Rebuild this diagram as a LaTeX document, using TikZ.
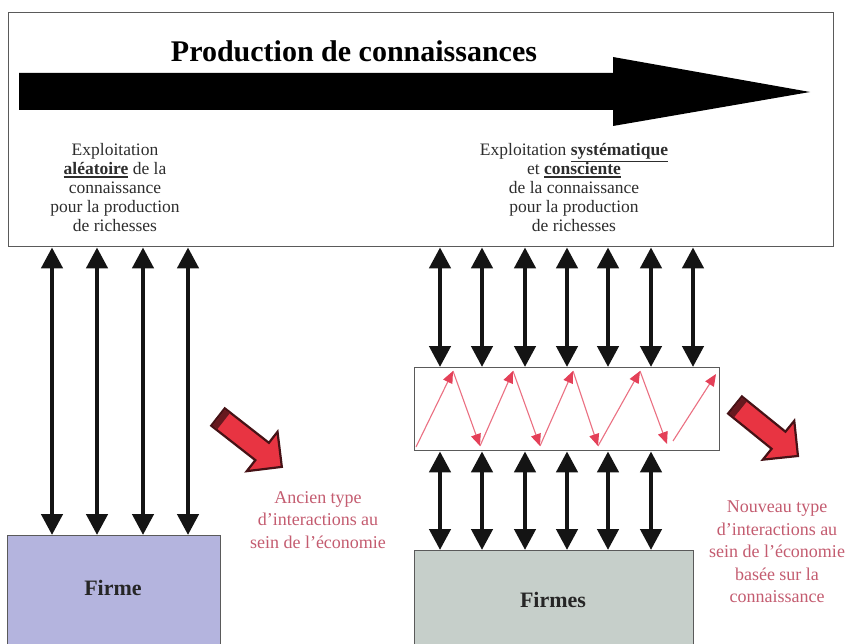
\documentclass[tikz,border=0pt]{standalone}
\usepackage{fontspec}
\setmainfont{Liberation Serif}
\usetikzlibrary{arrows.meta}
% bold word with a heavy rule beneath it
\newcommand\keyword[1]{\leavevmode\vtop{\hbox{\textbf{#1}}\kern1.2pt\hrule height 1.3pt}}

\definecolor{boxline}{RGB}{90,90,90}
\definecolor{inktext}{RGB}{45,45,45}
\definecolor{firmefill}{RGB}{180,180,222}
\definecolor{firmesfill}{RGB}{198,207,202}
\definecolor{notecol}{RGB}{196,92,112}
\definecolor{zigcol}{RGB}{228,64,88}
\definecolor{blockred}{RGB}{232,52,66}
\definecolor{blockedge}{RGB}{70,18,22}

\tikzset{
  panel/.style={draw=boxline, line width=1.4pt, inner sep=0pt},
  bodytext/.style={text=inktext, align=center, inner sep=0pt,
    font=\fontsize{17.5}{19}\selectfont},
  notetext/.style={text=notecol, align=center, inner sep=0pt,
    font=\fontsize{18}{22.5}\selectfont},
  firmtext/.style={text=black!85, inner sep=0pt,
    font=\fontsize{22}{26}\selectfont\bfseries},
  dbl/.style={line width=4.5pt, color=black!92,
    {Triangle[width=21pt,length=21pt]}-{Triangle[width=21pt,length=21pt]}},
  zig/.style={line width=1.1pt, color=zigcol!75,
    -{Triangle[width=10pt,length=12pt,color=zigcol]}},
  pics/bigred/.style={code={
    \filldraw[fill=blockred, draw=blockedge, line width=2.2pt, line join=miter]
      (0,-11) -- (56,-11) -- (56,-25) -- (81,0) -- (56,25) -- (56,11)
      -- (0,11) -- cycle;
    \fill[blockedge!80!blockred] (1,-10) rectangle (7,10);
  }}
}

\begin{document}
\begin{tikzpicture}[x=1pt,y=-1pt]
\useasboundingbox (0,0) rectangle (850,644);
\fill[white] (0,0) rectangle (850,644);

% knowledge production panel
\node[panel, anchor=north west, minimum width=825, minimum height=234] (prod) at (8,12) {};
\node[anchor=base, inner sep=0pt, font=\fontsize{30}{36}\selectfont\bfseries] (title) at (354,62) {Production de connaissances};
\fill[black] (19,73) -- (613,73) -- (613,57) -- (810,92) -- (613,126)
  -- (613,110) -- (19,110) -- cycle;

\node[bodytext] (oldtxt) at (115,188)
  {Exploitation\\ \keyword{aléatoire} de la\\ connaissance\\ pour la production\\ de richesses};
\node[bodytext] (newtxt) at (574,188)
  {Exploitation \keyword{systématique}\\ et \keyword{consciente}\\ de la connaissance\\ pour la production\\ de richesses};

% firms and relay layer
\node[panel, fill=firmefill, anchor=north west, minimum width=213, minimum height=120] (firme) at (7,535) {};
\node[firmtext] (firmelbl) at (113,588) {Firme};
\node[panel, fill=firmesfill, anchor=north west, minimum width=279, minimum height=100] (firmes) at (414,550) {};
\node[firmtext] (firmeslbl) at (553,600) {Firmes};
\node[panel, anchor=north west, minimum width=305, minimum height=83] (relay) at (414,367) {};

% column positions of the interaction arrows
\foreach \i/\x in {1/52,2/97,3/143,4/188}
  \coordinate (l\i) at (\x,0);
\foreach \i/\x in {1/440,2/482,3/525,4/567,5/608,6/651,7/693}
  \coordinate (r\i) at (\x,0);

\foreach \i in {1,...,4}
  \draw[dbl] (prod.south -| l\i) -- (firme.north -| l\i);
\foreach \i in {1,...,7}
  \draw[dbl] (prod.south -| r\i) -- (relay.north -| r\i);
\foreach \i in {1,...,6}
  \draw[dbl] (relay.south -| r\i) -- (firmes.north -| r\i);

% zigzag exchanges inside the relay layer
\coordinate (z0) at (416,447);
\coordinate (z1) at (453,371);
\coordinate (z2) at (480,446);
\coordinate (z3) at (513,371);
\coordinate (z4) at (540,446);
\coordinate (z5) at (573,371);
\coordinate (z6) at (598,446);
\coordinate (z7) at (640,371);
\coordinate (z8) at (667,444);
\coordinate (z8b) at (673,441);
\coordinate (z9) at (716,374);
\draw[zig] (z0) -- (z1);
\draw[zig] (z1) -- (z2);
\draw[zig] (z2) -- (z3);
\draw[zig] (z3) -- (z4);
\draw[zig] (z4) -- (z5);
\draw[zig] (z5) -- (z6);
\draw[zig] (z6) -- (z7);
\draw[zig] (z7) -- (z8);
\draw[zig] (z8b) -- (z9);

% transition arrows and their captions
\pic[rotate=-38] at (218,417) {bigred};
\pic[rotate=-39] at (735,405) {bigred};

\node[notetext] (oldtype) at (318,520)
  {Ancien type\\ d'interactions au\\ sein de l'économie};
\node[notetext] (newtype) at (777,552)
  {Nouveau type\\ d'interactions au\\ sein de l'économie\\ basée sur la\\ connaissance};
\end{tikzpicture}
\end{document}
